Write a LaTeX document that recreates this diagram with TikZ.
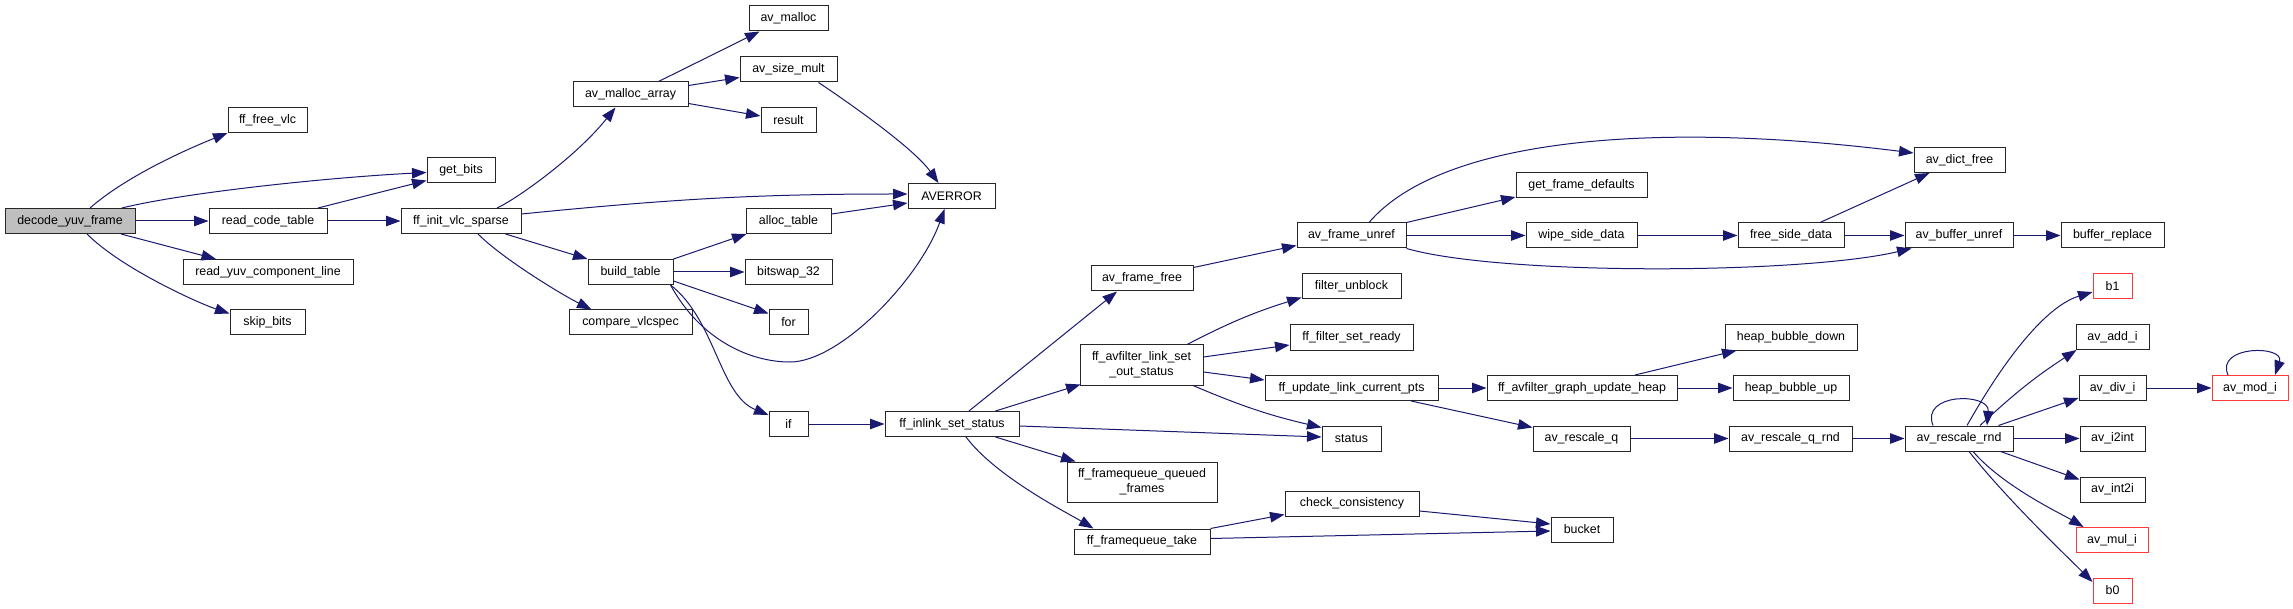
\documentclass[tikz,border=0pt]{standalone}
\usepackage{fontspec}
\setmainfont{Liberation Sans}
\usetikzlibrary{arrows.meta,calc}
\definecolor{edgecol}{HTML}{191970}
\definecolor{redbox}{HTML}{FF3A3A}
\newcommand\nf{\fontsize{12.4}{15}\selectfont}
\begin{document}
\begin{tikzpicture}[x=1pt,y=1pt,
  box/.style={draw=black!85,line width=1pt,fill=white,minimum height=25pt,inner sep=0pt,font=\nf,align=center},
  tall/.style={minimum height=40pt},
  rbox/.style={box,draw=redbox},
  e/.style={draw=edgecol,line width=1pt,-{Triangle[length=14.5pt,width=10.5pt]}}]
\fill[white] (0,0) rectangle (2293,-609);
\useasboundingbox (0,0) rectangle (2293,-609);
% nodes
\node[box,fill=black!25,minimum width=130pt] (dyf) at (70,-221) {decode\_yuv\_frame};
\node[box,minimum width=79pt] (ffv) at (267.5,-120) {ff\_free\_vlc};
\node[box,minimum width=68pt] (gb) at (461,-170.5) {get\_bits};
\node[box,minimum width=118pt] (rct) at (268,-221) {read\_code\_table};
\node[box,minimum width=170pt] (ryc) at (268,-272) {read\_yuv\_component\_line};
\node[box,minimum width=75pt] (skb) at (267.5,-322.5) {skip\_bits};
\node[box,minimum width=120pt] (fivs) at (461,-221) {ff\_init\_vlc\_sparse};
\node[box,minimum width=115pt] (ama) at (630.5,-94.5) {av\_malloc\_array};
\node[box,minimum width=85pt] (bt) at (630.5,-272) {build\_table};
\node[box,minimum width=123pt] (cvs) at (630.5,-322.5) {compare\_vlcspec};
\node[box,minimum width=39pt] (ifn) at (788.5,-424) {if};
\node[box,minimum width=79pt] (aml) at (788.5,-18.5) {av\_malloc};
\node[box,minimum width=97pt] (asm) at (788.5,-69.5) {av\_size\_mult};
\node[box,minimum width=55pt] (res) at (788.5,-120) {result};
\node[box,minimum width=85pt] (alt) at (788.5,-221) {alloc\_table};
\node[box,minimum width=87pt] (bsw) at (788.5,-272) {bitswap\_32};
\node[box,minimum width=39pt] (forn) at (788.5,-322.5) {for};
\node[box,minimum width=87pt] (aver) at (951.5,-196) {AVERROR};
\node[box,minimum width=134pt] (ffis) at (952,-424) {ff\_inlink\_set\_status};
\node[box,minimum width=102pt] (aff) at (1142,-278.5) {av\_frame\_free};
\node[box,tall,minimum width=123pt] (ffalso) at (1141.5,-365) {ff\_avfilter\_link\_set\\\_out\_status};
\node[box,tall,minimum width=150pt] (ffqf) at (1142,-482) {ff\_framequeue\_queued\\\_frames};
\node[box,minimum width=136pt] (fft) at (1142,-541.5) {ff\_framequeue\_take};
\node[box,minimum width=109pt] (afu) at (1351.5,-235.5) {av\_frame\_unref};
\node[box,minimum width=99pt] (fub) at (1351.5,-286.5) {filter\_unblock};
\node[box,minimum width=123pt] (ffsr) at (1351.5,-337.5) {ff\_filter\_set\_ready};
\node[box,minimum width=173pt] (fulcp) at (1351.5,-388) {ff\_update\_link\_current\_pts};
\node[box,minimum width=59pt] (sta) at (1351.5,-438.5) {status};
\node[box,minimum width=134pt] (cc) at (1352,-503.5) {check\_consistency};
\node[box,minimum width=131pt] (gfd) at (1581.5,-185) {get\_frame\_defaults};
\node[box,minimum width=111pt] (wsd) at (1581.5,-235.5) {wipe\_side\_data};
\node[box,minimum width=190pt] (fagu) at (1582,-388) {ff\_avfilter\_graph\_update\_heap};
\node[box,minimum width=97pt] (arq) at (1581.5,-438.5) {av\_rescale\_q};
\node[box,minimum width=62pt] (bkt) at (1582,-529.5) {bucket};
\node[box,minimum width=106pt] (fsd) at (1791,-235.5) {free\_side\_data};
\node[box,minimum width=132pt] (hbd) at (1791,-337.5) {heap\_bubble\_down};
\node[box,minimum width=116pt] (hbu) at (1791,-388) {heap\_bubble\_up};
\node[box,minimum width=123pt] (arqr) at (1790.5,-438.5) {av\_rescale\_q\_rnd};
\node[box,minimum width=91pt] (adf) at (1959.5,-160) {av\_dict\_free};
\node[box,minimum width=108pt] (abu) at (1959,-235.5) {av\_buffer\_unref};
\node[box,minimum width=108pt] (arr) at (1959,-438.5) {av\_rescale\_rnd};
\node[box,minimum width=103pt] (br) at (2112.5,-235.5) {buffer\_replace};
\node[rbox,minimum width=39pt] (bone) at (2112.5,-286.5) {b1};
\node[box,minimum width=73pt] (add) at (2112.5,-337) {av\_add\_i};
\node[box,minimum width=67pt] (div) at (2112.5,-388) {av\_div\_i};
\node[box,minimum width=65pt] (i2i) at (2112.5,-438.5) {av\_i2int};
\node[box,minimum width=65pt] (int2) at (2112.5,-489.5) {av\_int2i};
\node[rbox,minimum width=72pt] (mul) at (2112,-540) {av\_mul\_i};
\node[rbox,minimum width=39pt] (bzero) at (2112.5,-590.5) {b0};
\node[rbox,minimum width=76pt] (mod) at (2250,-388) {av\_mod\_i};
\coordinate (w1) at (790,-362);
% edges
\draw[e] ($(dyf.north)+(20,0)$) .. controls +(40,35) and +(-30,-12) .. (ffv.south west);
\draw[e] ($(dyf.north)+(52,0)$) .. controls +(60,15) and +(-100,-5) .. ($(gb.west)+(0,-2)$);
\draw[e] (dyf) -- (rct);
\draw[e] ($(dyf.south)+(51,0)$) -- ($(ryc.north)+(-52,0)$);
\draw[e] ($(dyf.south)+(17,0)$) .. controls +(35,-35) and +(-30,10) .. ($(skb.west)+(0,9)$);
\draw[e] ($(rct.north)+(50,0)$) -- ($(gb.south west)+(0,3)$);
\draw[e] (rct) -- (fivs);
\draw[e] ($(fivs.north)+(36,0)$) .. controls +(18,8) and +(-40,-50) .. ($(ama.south)+(-15,0)$);
\draw[e] ($(fivs.east)+(0,7)$) .. controls +(150,15) and +(-150,0) .. ($(aver.west)+(0,2)$);
\draw[e] ($(fivs.south east)+(-16,0)$) -- (bt.north west);
\draw[e] ($(fivs.south)+(17,0)$) .. controls +(25,-25) and +(-30,15) .. ($(cvs.north west)+(23,0)$);
\draw[e] ($(ama.north)+(28,0)$) -- ($(aml.south west)+(11,0)$);
\draw[e] ($(ama.east)+(0,9)$) -- ($(asm.west)+(0,-8)$);
\draw[e] ($(ama.east)+(0,-9)$) -- ($(res.west)+(0,4)$);
\draw[e] ($(asm.south)+(30,0)$) .. controls +(30,-20) and +(-25,35) .. ($(aver.north)+(-13,0)$);
\draw[e] ($(alt.east)+(0,7)$) -- ($(aver.west)+(0,-7)$);
\draw[e] (bt.north east) -- ($(alt.south west)+(1,0)$);
\draw[e] (bt) -- (bsw);
\draw[e] ($(bt.east)+(0,-9)$) -- ($(forn.west)+(0,9)$);
\draw[e] ($(bt.south east)+(-3,0)$) .. controls +(30,-55) and +(-40,0) .. (w1) .. controls +(50,0) and +(-25,-70) .. ($(aver.south)+(-7,0)$);
\draw[e] ($(bt.south east)+(-3,0)$) .. controls +(45,-35) and +(-49,20) .. ($(ifn.north west)+(0,-4)$);
\draw[e] (ifn) -- (ffis);
\draw[e] ($(ffis.north)+(17,0)$) -- ($(aff.south)+(-25,0)$);
\draw[e] ($(ffis.north east)+(-24,0)$) -- ($(ffalso.south west)+(1,1)$);
\draw[e] ($(ffis.east)+(0,-2)$) -- ($(sta.west)+(0,1.5)$);
\draw[e] ($(ffis.south east)+(-24,0)$) -- ($(ffqf.north west)+(9,0)$);
\draw[e] ($(ffis.south)+(14,0)$) .. controls +(30,-40) and +(-25,15) .. ($(fft.north west)+(20,0)$);
\draw[e] ($(aff.north east)+(0,-2)$) -- ($(afu.south west)+(0,3)$);
\draw[e] ($(afu.north)+(17.5,0)$) .. controls +(71,83) and +(-264,33) .. ($(adf.west)+(0,7)$);
\draw[e] (afu.north east) -- ($(gfd.south west)+(0,1)$);
\draw[e] (afu) -- (wsd);
\draw[e] (afu.south east) .. controls +(94,-27) and +(-112,-26) .. ($(abu.south west)+(7,0)$);
\draw[e] (wsd) -- (fsd);
\draw[e] ($(fsd.north)+(29,0)$) -- ($(adf.south west)+(16,0)$);
\draw[e] (fsd) -- (abu);
\draw[e] (abu) -- (br);
\draw[e] ($(ffalso.north)+(45.5,0)$) to[bend left=5] ($(fub.south west)+(0,2)$);
\draw[e] ($(ffalso.east)+(0,8)$) -- ($(ffsr.west)+(0,-7.5)$);
\draw[e] ($(ffalso.east)+(0,-7)$) -- ($(fulcp.west)+(0,8)$);
\draw[e] ($(ffalso.south)+(51.5,0)$) to[bend right=5] ($(sta.north west)+(0,-2)$);
\draw[e] (fulcp) -- (fagu);
\draw[e] ($(fulcp.south)+(59.5,0)$) -- ($(arq.north west)+(0,-2)$);
\draw[e] ($(fagu.north)+(53,0)$) -- ($(hbd.south west)+(12,0)$);
\draw[e] (fagu) -- (hbu);
\draw[e] (arq) -- (arqr);
\draw[e] (arqr) -- (arr);
\draw[e] ($(arr.north)+(-26,0)$) .. controls +(-13,33) and +(3,33) .. ($(arr.north)+(28,0)$);
\draw[e] ($(arr.north)+(8,0)$) .. controls +(43,76) and +(-43,-13) .. ($(bone.west)+(0,-5.5)$);
\draw[e] ($(arr.north)+(21,0)$) to[bend left=5] ($(add.south west)+(1,0)$);
\draw[e] ($(arr.north east)+(-15,0)$) -- ($(div.south west)+(0,3)$);
\draw[e] (arr) -- (i2i);
\draw[e] ($(arr.south east)+(-13,0)$) -- ($(int2.north west)+(0,-3)$);
\draw[e] ($(arr.south)+(14,0)$) .. controls +(30,-35) and +(-20,12) .. ($(mul.north west)+(8,0)$);
\draw[e] ($(arr.south)+(10,0)$) .. controls +(40,-50) and +(-30,30) .. ($(bzero.west)+(0,8.5)$);
\draw[e] (div) -- (mod);
\draw[e] ($(mod.north)+(-22,0)$) .. controls +(-13,30) and +(10,30) .. ($(mod.north)+(25,0)$);
\draw[e] (fft.north east) -- ($(cc.south west)+(0,2)$);
\draw[e] ($(fft.east)+(0,3)$) -- ($(bkt.west)+(0,-1.5)$);
\draw[e] ($(cc.east)+(0,-7.5)$) -- ($(bkt.west)+(0,5.5)$);
\end{tikzpicture}
\end{document}
